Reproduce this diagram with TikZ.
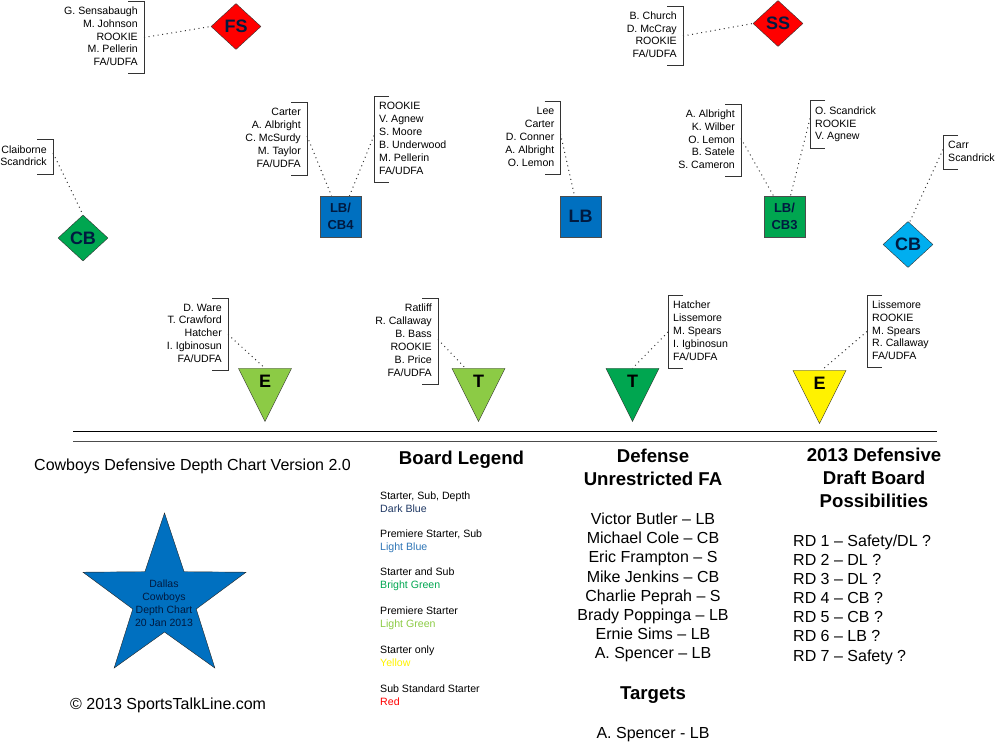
\documentclass[tikz,border=0pt]{standalone}
\usepackage{fontspec}
\setmainfont{Liberation Sans}
\usetikzlibrary{shapes.geometric}
\definecolor{dkblue}{HTML}{0070C0}
\definecolor{ltblue}{HTML}{00AEEF}
\definecolor{brgreen}{HTML}{00A650}
\definecolor{ltgreen}{HTML}{8CCB45}
\definecolor{navy}{HTML}{1F3864}
\definecolor{skyblue}{HTML}{2E75B6}
\definecolor{ink}{HTML}{001A40}

\begin{document}
\begin{tikzpicture}[x=1pt, y=-1pt,
    rosterl/.style={anchor=east, align=right, inner xsep=6pt, inner ysep=5.25pt, font=\fontsize{10.6}{12.9}\selectfont, execute at begin node={\rule[-2.65pt]{0pt}{12.9pt}}, execute at end node={\rule[-2.65pt]{0pt}{12.9pt}}},
    rosterr/.style={anchor=west, align=left, inner xsep=5pt, inner ysep=5.25pt, font=\fontsize{10.6}{12.9}\selectfont, execute at begin node={\rule[-2.65pt]{0pt}{12.9pt}}, execute at end node={\rule[-2.65pt]{0pt}{12.9pt}}},
    bracket/.style={draw=black!80, line width=1pt},
    link/.style={draw=black!80, line width=1pt, dash pattern=on 1pt off 3.6pt},
    diam/.style={diamond, draw=black!80, inner sep=0pt, minimum width=50pt, minimum height=46pt, text=ink, font=\fontsize{18}{20}\bfseries\selectfont},
    sqbox/.style={rectangle, draw=black!70, inner sep=0pt, minimum size=41pt, align=center, text=ink, font=\fontsize{13}{16.5}\bfseries\selectfont},
    tri/.style={isosceles triangle, shape border rotate=-90, isosceles triangle stretches, draw=black!85, inner sep=0pt, minimum width=53pt, minimum height=53pt, anchor=apex},
    tritext/.style={font=\fontsize{18}{20}\bfseries\selectfont, inner sep=0pt},
    heading/.style={align=center, font=\fontsize{18.6}{23}\bfseries\selectfont},
    bodytext/.style={font=\fontsize{16}{19.14}\selectfont},
    legend/.style={anchor=west, align=left, inner sep=0pt, font=\fontsize{10.6}{12.7}\selectfont}]
    \useasboundingbox (0,0) rectangle (995,743);

    % Positions
    \node[diam, fill=red] (fs) at (236,26.5) {FS};
    \node[diam, fill=red] (ss) at (778,23.5) {SS};
    \node[diam, fill=brgreen] (cbl) at (83,238) {CB};
    \node[diam, fill=ltblue] (cbr) at (908,244.5) {CB};
    \node[sqbox, fill=dkblue] (lbfour) at (340.5,216.5) {LB/\\CB4};
    \node[sqbox, fill=dkblue, font=\fontsize{18}{20}\bfseries\selectfont] (lb) at (580.5,216.5) {LB};
    \node[sqbox, fill=brgreen] (lbthree) at (784.5,216.5) {LB/\\CB3};
    \node[tri, fill=ltgreen] (el) at (265,422) {};
    \node[tri, fill=ltgreen] (tl) at (478.5,422) {};
    \node[tri, fill=brgreen] (tr) at (632.5,422) {};
    \node[tri, fill=yellow] (er) at (819.5,424) {};
    \node[tritext] (eltext) at (265,381) {E};
    \node[tritext] (tltext) at (478.5,381) {T};
    \node[tritext] (trtext) at (632.5,381) {T};
    \node[tritext] (ertext) at (819.5,383) {E};

    % Rosters
    \node[rosterl] (fsnames) at (144,37.5) {G. Sensabaugh\\M. Johnson\\ROOKIE\\M. Pellerin\\FA/UDFA};
    \node[rosterl] (ssnames) at (683,36) {B. Church\\D. McCray\\ROOKIE\\FA/UDFA};
    \node[rosterl] (cblnames) at (53,157) {Claiborne\\Scandrick};
    \node[rosterl] (fourl) at (307,139) {Carter\\A. Albright\\C. McSurdy\\M. Taylor\\FA/UDFA};
    \node[rosterr] (fourr) at (374,139.5) {ROOKIE\\V. Agnew\\S. Moore\\B. Underwood\\M. Pellerin\\FA/UDFA};
    \node[rosterl] (lbnames) at (560.5,138) {Lee\\Carter\\D. Conner\\A. Albright\\O. Lemon};
    \node[rosterl] (threel) at (741,140.5) {A. Albright\\K. Wilber\\O. Lemon\\B. Satele\\S. Cameron};
    \node[rosterr] (threer) at (810,124.5) {O. Scandrick\\ROOKIE\\V. Agnew};
    \node[rosterr] (cbrnames) at (943,152.5) {Carr\\Scandrick};
    \node[rosterl] (elnames) at (228,334.5) {D. Ware\\T. Crawford\\Hatcher\\I. Igbinosun\\FA/UDFA};
    \node[rosterl] (tlnames) at (438,341.5) {Ratliff\\R. Callaway\\B. Bass\\ROOKIE\\B. Price\\FA/UDFA};
    \node[rosterr] (trnames) at (668,332) {Hatcher\\Lissemore\\M. Spears\\I. Igbinosun\\FA/UDFA};
    \node[rosterr] (ernames) at (867,331.5) {Lissemore\\ROOKIE\\M. Spears\\R. Callaway\\FA/UDFA};

    % Brackets
    \foreach \n in {fsnames,ssnames,cblnames,fourl,lbnames,threel,elnames,tlnames}
        \draw[bracket] ([xshift=-16pt]\n.north east) -- (\n.north east) -- (\n.south east) -- ([xshift=-16pt]\n.south east);
    \foreach \n in {fourr,threer,cbrnames,trnames,ernames}
        \draw[bracket] ([xshift=15pt]\n.north west) -- (\n.north west) -- (\n.south west) -- ([xshift=15pt]\n.south west);

    % Links
    \draw[link] (fsnames.east) -- (fs.west);
    \draw[link] (ssnames.east) -- (ss.west);
    \draw[link] ([yshift=4pt]cblnames.east) -- (cbl.north);
    \draw[link] ([yshift=3pt]fourl.east) -- ([xshift=-9pt]lbfour.north);
    \draw[link] ([yshift=4pt]fourr.west) -- ([xshift=9pt]lbfour.north);
    \draw[link] ([yshift=4pt]lbnames.east) -- ([xshift=-6pt]lb.north);
    \draw[link] ([yshift=2pt]threel.east) -- ([xshift=-11pt]lbthree.north);
    \draw[link] ([yshift=6pt]threer.west) -- ([xshift=6pt]lbthree.north);
    \draw[link] ([yshift=3pt]cbrnames.west) -- ([xshift=2pt]cbr.north);
    \draw[link] (elnames.east) -- (el.lower side);
    \draw[link] ([yshift=2pt]tlnames.east) -- ([xshift=-13pt]tl.lower side);
    \draw[link] (trnames.west) -- (tr.lower side);
    \draw[link] (ernames.west) -- ([xshift=2pt]er.lower side);

    % Rules
    \coordinate (ruleal) at (73,431);
    \coordinate (ruleae) at (937,431);
    \coordinate (rulebl) at (73,441);
    \coordinate (rulebe) at (937,441);
    \draw[line width=0.9pt] (ruleal) -- (ruleae);
    \draw[line width=0.9pt, black!70] (rulebl) -- (rulebe);

    % Left column
    \node[anchor=west, inner sep=0pt, bodytext] (title) at (34,466) {Cowboys Defensive Depth Chart Version 2.0};
    \node[star, star points=5, star point ratio=2.57, draw=black!85, fill=dkblue, inner sep=0pt, minimum size=171.4pt] (logo) at (164.5,598.7) {};
    \node[align=center, text=ink, inner sep=0pt, font=\fontsize{10.5}{12.9}\selectfont] (logotext) at (164,603.5) {Dallas\\Cowboys\\Depth Chart\\20 Jan 2013};
    \node[anchor=west, inner sep=0pt, bodytext] (copy) at (70,705.5) {© 2013 SportsTalkLine.com};

    % Legend
    \node[heading] (boardhead) at (461.5,460) {Board Legend};
    \node[legend] (lega) at (380,502.5) {Starter, Sub, Depth\\\textcolor{navy}{Dark Blue}};
    \node[legend] (legb) at (380,541.5) {Premiere Starter, Sub\\\textcolor{skyblue}{Light Blue}};
    \node[legend] (legc) at (380,579.5) {Starter and Sub\\\textcolor{brgreen}{Bright Green}};
    \node[legend] (legd) at (380,618) {Premiere Starter\\\textcolor{ltgreen}{Light Green}};
    \node[legend] (lege) at (380,656.5) {Starter only\\\textcolor{yellow}{Yellow}};
    \node[legend] (legf) at (380,695) {Sub Standard Starter\\\textcolor{red}{Red}};

    % Free agents
    \node[heading] (fahead) at (653,467.5) {Defense\\Unrestricted FA};
    \node[align=center, inner sep=0pt, bodytext] (falist) at (653,587.5) {Victor Butler -- LB\\Michael Cole -- CB\\Eric Frampton -- S\\Mike Jenkins -- CB\\Charlie Peprah -- S\\Brady Poppinga -- LB\\Ernie Sims -- LB\\A. Spencer -- LB};
    \node[heading] (targethead) at (653,695) {Targets};
    \node[inner sep=0pt, bodytext] (target) at (653,735) {A. Spencer - LB};

    % Draft board
    \node[heading] (drafthead) at (874,478) {2013 Defensive\\Draft Board\\Possibilities};
    \node[anchor=west, align=left, inner sep=0pt, bodytext] (draftlist) at (793,599.5) {RD 1 -- Safety/DL ?\\RD 2 -- DL ?\\RD 3 -- DL ?\\RD 4 -- CB ?\\RD 5 -- CB ?\\RD 6 -- LB ?\\RD 7 -- Safety ?};
\end{tikzpicture}
\end{document}
